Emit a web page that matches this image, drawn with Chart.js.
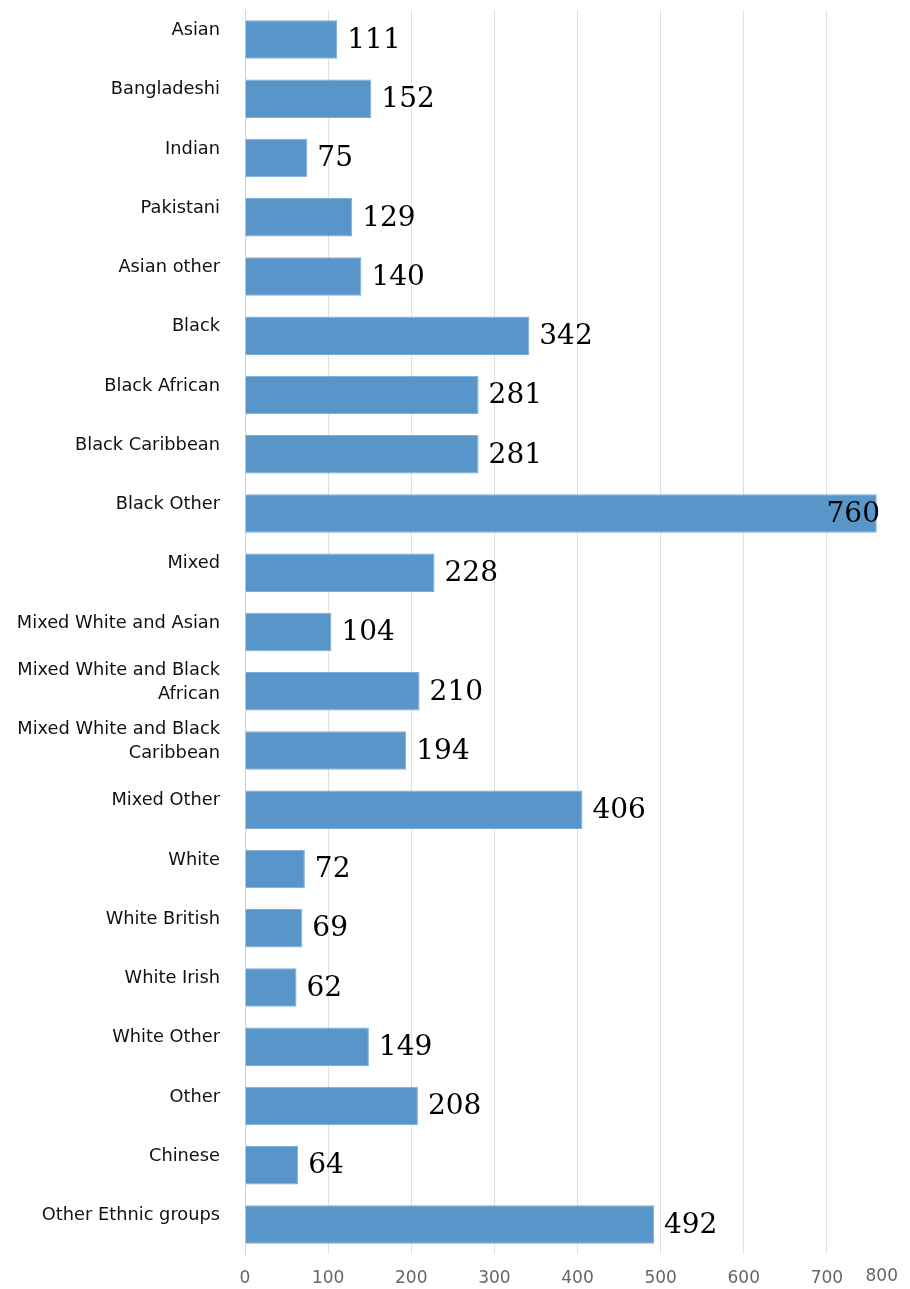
<!DOCTYPE html>
<html>
<head>
<meta charset="utf-8">
<script src="https://cdn.jsdelivr.net/npm/chart.js@4"></script>
<style>
  html, body { margin: 0; padding: 0; background: #fff; }
  #wrap { width: 910px; height: 1289px; position: relative; }
</style>
</head>
<body>
<div id="wrap"><canvas id="ethnicChart"></canvas></div>
<script>
const categories = [
  "Asian", "Bangladeshi", "Indian", "Pakistani", "Asian other",
  "Black", "Black African", "Black Caribbean", "Black Other",
  "Mixed", "Mixed White and Asian",
  ["Mixed White and Black", "African"],
  ["Mixed White and Black", "Caribbean"],
  "Mixed Other", "White", "White British", "White Irish", "White Other",
  "Other", "Chinese", "Other Ethnic groups"
];
const values = [111, 152, 75, 129, 140, 342, 281, 281, 760, 228, 104, 210, 194, 406, 72, 69, 62, 149, 208, 64, 492];
const xTicks = [0, 100, 200, 300, 400, 500, 600, 700, 800];

// value labels at the end of each bar, plus the clamped last x tick label
const barLabels = {
  id: "barLabels",
  afterDatasetsDraw(chart) {
    const ctx = chart.ctx;
    const meta = chart.getDatasetMeta(0);
    ctx.save();
    ctx.font = "28px 'DejaVu Serif'";
    ctx.fillStyle = "#000";
    ctx.textBaseline = "middle";
    ctx.textAlign = "left";
    meta.data.forEach((bar, i) => {
      const txt = String(values[i]);
      const w = ctx.measureText(txt).width;
      let x = bar.x + 10;
      if (x + w > 880) x = 880 - w;
      ctx.fillText(txt, x, bar.y + 1);
    });

    // last tick label would fall off the canvas, keep it inside
    const xs = chart.scales.x;
    const last = xTicks[xTicks.length - 1];
    const txt = String(last);
    ctx.font = Chart.helpers.toFont(xs.options.ticks.font).string;
    ctx.fillStyle = "#666";
    ctx.textAlign = "center";
    ctx.textBaseline = "top";
    const w = ctx.measureText(txt).width;
    let px = xs.getPixelForValue(last);
    if (px + w / 2 > chart.width - 12) px = chart.width - 12 - w / 2;
    ctx.fillText(txt, px, xs.top + xs.options.ticks.padding);
    ctx.restore();
  }
};

const ctx = document.getElementById("ethnicChart").getContext("2d");
new Chart(ctx, {
  type: "bar",
  data: {
    labels: categories,
    datasets: [{
      data: values,
      backgroundColor: "#5895c9",
      borderColor: "#7aaddb",
      borderWidth: 1,
      barPercentage: 0.65,
      categoryPercentage: 1
    }]
  },
  options: {
    indexAxis: "y",
    responsive: true,
    maintainAspectRatio: false,
    animation: false,
    layout: { padding: { top: 10, left: 0, right: 0, bottom: 0 } },
    plugins: {
      legend: { display: false },
      tooltip: { enabled: false }
    },
    scales: {
      x: {
        min: 0,
        max: 800,
        afterBuildTicks(scale) {
          scale.ticks = xTicks.map(v => ({ value: v }));
        },
        afterFit(scale) {
          scale.height = 35;
          scale.paddingLeft = 0;
          scale.paddingRight = 0;
        },
        grid: { color: "#e0e0e0", lineWidth: 1, drawTicks: false },
        border: { display: false },
        ticks: {
          padding: 14,
          color: "#666",
          font: { family: "'DejaVu Sans'", size: 17 },
          callback: (v) => (v === xTicks[xTicks.length - 1] ? "" : String(v))
        }
      },
      y: {
        afterFit(scale) {
          scale.width = 245;
          scale.paddingTop = 0;
          scale.paddingBottom = 0;
        },
        grid: { display: false, drawTicks: false },
        border: { display: true, color: "#c5d5e8", width: 1 },
        ticks: {
          padding: 25,
          labelOffset: -9,
          color: "#111",
          font: { family: "'DejaVu Sans'", size: 17.8, lineHeight: 1.35 }
        }
      }
    }
  },
  plugins: [barLabels]
});
</script>
</body>
</html>
